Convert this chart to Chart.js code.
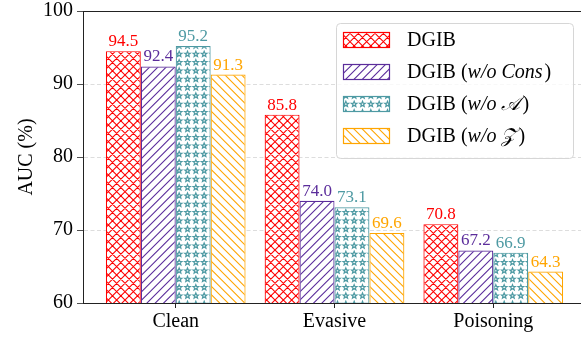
<!DOCTYPE html>
<html>
<head>
<meta charset="utf-8">
<script src="https://cdn.jsdelivr.net/npm/chart.js@4.4.1/dist/chart.umd.min.js"></script>
<style>
  html, body { margin: 0; padding: 0; background: #fff; overflow: hidden; }
  #wrap { width: 581px; height: 339px; overflow: hidden; }
</style>
</head>
<body>
<div id="wrap"><canvas id="auc" width="600" height="339"></canvas></div>
<script>
// data
const categories = ['Clean', 'Evasive', 'Poisoning'];
const seriesNames = ['DGIB', 'DGIB (w/o Cons)', 'DGIB (w/o 𝒜)', 'DGIB (w/o 𝒵)'];
const dgib = [94.5, 85.8, 70.8];
const dgibNoCons = [92.4, 74.0, 67.2];
const dgibNoA = [95.2, 73.1, 66.9];
const dgibNoZ = [91.3, 69.6, 64.3];
const yTicks = [60, 70, 80, 90, 100];

const seriesValues = [dgib, dgibNoCons, dgibNoA, dgibNoZ];
const colors = ['#ff0000', '#5b2d9b', '#4e9aa3', '#ffa500'];
const hatches = ['cross', 'slash', 'stars', 'backslash'];

const SERIF = '"Liberation Serif", "DejaVu Serif", serif';

// ===========================
// Hatch patterns
// ===========================
function makePattern(kind, color) {
    const size = 25, p = size / 3;
    const c = document.createElement('canvas');
    c.width = size; c.height = size;
    const g = c.getContext('2d');
    g.fillStyle = '#fff';
    g.fillRect(0, 0, size, size);
    g.strokeStyle = color;
    g.lineWidth = 1.1;
    g.beginPath();
    if (kind === 'cross' || kind === 'slash') {
        for (let k = -3; k <= 9; k++) {
            const d = k * p;
            g.moveTo(d + 10, -10);
            g.lineTo(d - 40, 40);
        }
    }
    if (kind === 'cross' || kind === 'backslash') {
        for (let k = -6; k <= 6; k++) {
            const d = k * p;
            g.moveTo(d - 10, -10);
            g.lineTo(d + 40, 40);
        }
    }
    g.stroke();
    if (kind === 'stars') {
        g.lineWidth = 1.2;
        for (let i = 0; i < 3; i++) {
            for (let j = 0; j < 3; j++) {
                const cx = p / 2 + i * p, cy = p / 2 + j * p;
                g.beginPath();
                for (let s = 0; s < 10; s++) {
                    const r = s % 2 === 0 ? 2.9 : 1.25;
                    const a = -Math.PI / 2 + s * Math.PI / 5;
                    const px = cx + r * Math.cos(a), py = cy + r * Math.sin(a);
                    if (s === 0) g.moveTo(px, py); else g.lineTo(px, py);
                }
                g.closePath();
                g.stroke();
            }
        }
    }
    return g.createPattern(c, 'repeat');
}

const ctx = document.getElementById('auc').getContext('2d');
const patterns = hatches.map((h, k) => makePattern(h, colors[k]));

// ===========================
// Plugins
// ===========================
const valueLabels = {
    id: 'valueLabels',
    afterDatasetsDraw(chart) {
        const c = chart.ctx;
        c.save();
        c.font = '17px ' + SERIF;
        c.textAlign = 'center';
        c.textBaseline = 'alphabetic';
        chart.data.datasets.forEach((ds, k) => {
            const meta = chart.getDatasetMeta(k);
            c.fillStyle = colors[k];
            meta.data.forEach((bar, i) => {
                c.fillText(seriesValues[k][i].toFixed(1), bar.x, bar.y - 5);
            });
        });
        c.restore();
    }
};

const topSpine = {
    id: 'topSpine',
    afterDraw(chart) {
        const a = chart.chartArea, c = chart.ctx;
        c.save();
        c.strokeStyle = '#222';
        c.lineWidth = 1;
        c.beginPath();
        c.moveTo(a.left, Math.round(a.top) + 0.5);
        c.lineTo(a.right, Math.round(a.top) + 0.5);
        c.stroke();
        c.restore();
    }
};

const boxLegend = {
    id: 'boxLegend',
    afterDraw(chart) {
        const c = chart.ctx;
        c.save();
        c.beginPath();
        c.roundRect(336.5, 23.5, 237, 135, 4);
        c.fillStyle = 'rgba(255,255,255,0.8)';
        c.fill();
        c.strokeStyle = '#d6d6d6';
        c.lineWidth = 1;
        c.stroke();
        seriesNames.forEach((name, k) => {
            const cy = 40 + k * 32;
            c.fillStyle = patterns[k];
            c.fillRect(343, cy - 8, 47, 16);
            c.strokeStyle = colors[k];
            c.lineWidth = 1.2;
            c.strokeRect(343.5, cy - 7.5, 46, 15);
            // text with italic part in parentheses
            const m = name.match(/^(.*\()(.+)(\))$/);
            const parts = m ? [[m[1], ''], [m[2], 'italic '], [m[3], '']] : [[name, '']];
            let x = 407;
            c.fillStyle = '#000';
            c.textBaseline = 'middle';
            c.textAlign = 'left';
            parts.forEach(([t, st]) => {
                c.font = st + '20px ' + SERIF;
                c.fillText(t, x, cy + 1);
                x += c.measureText(t).width + (st ? 2 : 0);
            });
        });
        c.restore();
    }
};

// ===========================
// Chart
// ===========================
new Chart(ctx, {
    type: 'bar',
    data: {
        datasets: seriesValues.map((vals, k) => ({
            label: seriesNames[k],
            data: vals.map((v, i) => ({ x: i, y: v })),
            backgroundColor: patterns[k],
            borderColor: colors[k],
            borderWidth: 1.2,
            borderSkipped: false,
            categoryPercentage: 0.88,
            barPercentage: 1
        }))
    },
    options: {
        responsive: false,
        animation: false,
        devicePixelRatio: 1,
        layout: { padding: { top: 11, right: 14, left: 0, bottom: 0 } },
        plugins: {
            legend: { display: false },
            tooltip: { enabled: false }
        },
        scales: {
            x: {
                type: 'linear',
                min: -0.584,
                max: 2.584,
                offset: false,
                afterBuildTicks: s => { s.ticks = categories.map((c, i) => ({ value: i })); },
                afterFit: s => { s.height = 36; },
                grid: { drawOnChartArea: false, drawTicks: true, tickLength: 5, tickColor: '#222', offset: false, z: -1 },
                border: { color: '#222', width: 1 },
                ticks: {
                    callback: v => categories[v],
                    color: '#000',
                    font: { family: SERIF, size: 20 },
                    padding: 2,
                    maxRotation: 0,
                    autoSkip: false
                }
            },
            y: {
                min: 60,
                max: 100,
                afterBuildTicks: s => { s.ticks = yTicks.map(v => ({ value: v })); },
                afterFit: s => { s.width = 83; },
                grid: {
                    color: c => (c.tick && (c.tick.value === 60 || c.tick.value === 100)) ? 'rgba(0,0,0,0)' : '#d4d4d4',
                    lineWidth: 0.8,
                    tickColor: '#222',
                    tickLength: 6,
                    z: -1
                },
                border: { color: '#222', width: 1, dash: [4, 2.5] },
                ticks: {
                    color: '#000',
                    font: { family: SERIF, size: 20, lineHeight: 0.6 },
                    padding: 4
                },
                title: {
                    display: true,
                    text: 'AUC (%)',
                    color: '#000',
                    font: { family: SERIF, size: 20 },
                    padding: { top: 15, bottom: 0 }
                }
            }
        }
    },
    plugins: [valueLabels, topSpine, boxLegend]
});
</script>
</body>
</html>
